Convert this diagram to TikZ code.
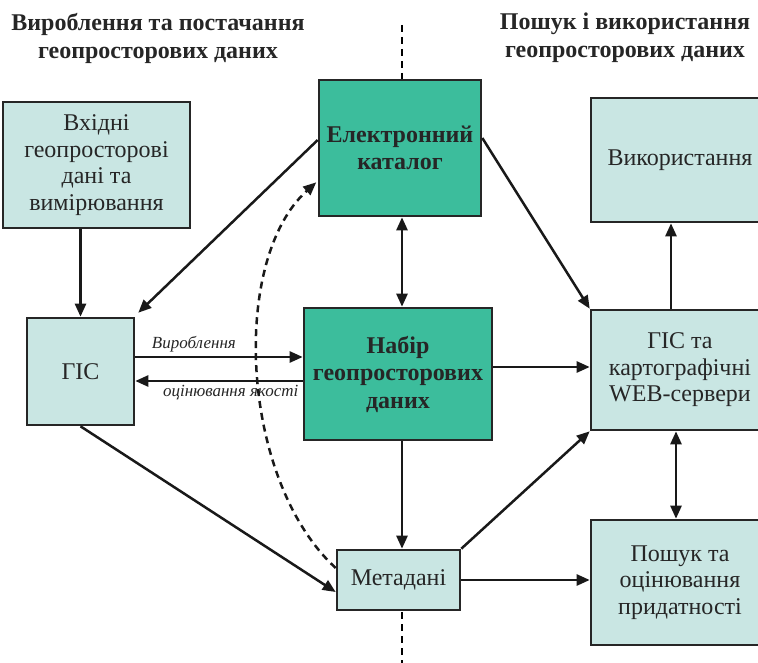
\documentclass[tikz,border=0pt]{standalone}
\usepackage{fontspec}
\setmainfont{Liberation Serif}
\usetikzlibrary{arrows.meta}
\definecolor{svitlyi}{HTML}{C9E6E3}
\definecolor{biruza}{HTML}{3CBD9C}
\tikzset{
  blok/.style={draw=black!85,line width=2.6pt,fill=svitlyi,align=center,
    inner sep=0pt,font=\fontsize{24}{26.5}\selectfont,text=black!85},
  golov/.style={blok,fill=biruza,font=\fontsize{24}{27.5}\selectfont\bfseries},
  arr/.style={line width=2.5pt,draw=black!90,-{Triangle[length=13pt,width=11pt]}},
  darr/.style={arr,{Triangle[length=13pt,width=11pt]}-{Triangle[length=13pt,width=11pt]}},
  pidpys/.style={font=\fontsize{17}{19}\selectfont\itshape,text=black!85}
}
\begin{document}
\begin{tikzpicture}[x=1pt,y=-1pt]
\useasboundingbox (0,0) rectangle (758,663);

% headings and the dividing line
\node[font=\fontsize{24}{28}\selectfont\bfseries,align=center,text=black!85]
  (hlivo) at (158,38) {Вироблення та постачання\\геопросторових даних};
\node[font=\fontsize{24}{28}\selectfont\bfseries,align=center,text=black!85]
  (hpravo) at (625,38) {Пошук і використання\\геопросторових даних};
\draw[line width=2.2pt,dash pattern=on 7pt off 5pt] (402,25) -- (402,80);
\draw[line width=2.2pt,dash pattern=on 7pt off 5pt] (402,612) -- (402,663);

% boxes
\node[blok,minimum width=187pt,minimum height=126pt] (vkhidni) at (96.5,165)
  {Вхідні\\геопросторові\\дані та\\вимірювання};
\node[blok,minimum width=107pt,minimum height=107pt] (gis) at (80.5,371.5) {ГІС};
\node[golov,minimum width=162pt,minimum height=136pt] (katalog) at (400,148)
  {Електронний\\каталог};
\node[golov,minimum width=188pt,minimum height=132pt] (nabir) at (398,374)
  {Набір\\геопросторових\\даних};
\node[blok,minimum width=123pt,minimum height=60pt] (meta) at (398.5,580) {Метадані};
\node[blok,minimum width=178pt,minimum height=124pt] (vykor) at (680,160) {Використання};
\node[blok,minimum width=178pt,minimum height=120pt] (web) at (680,370)
  {ГІС та\\картографічні\\WEB-сервери};
\node[blok,minimum width=178pt,minimum height=125pt] (poshuk) at (680,582.5)
  {Пошук та\\оцінювання\\придатності};

% connectors
\draw[arr] (vkhidni.south -| gis.north) -- (gis.north);
\draw[arr] ([yshift=8pt]katalog.west) -- ([shift={(3pt,4pt)}]gis.north east);
\draw[darr] ([xshift=2pt]katalog.south) -- ([xshift=2pt]katalog.south |- nabir.north);
\draw[arr] ([yshift=10pt]katalog.east) -- (web.north west);
\draw[arr] ([yshift=14.5pt]gis.east) -- ([yshift=14.5pt]gis.east -| nabir.west)
  node[pidpys,pos=0.35,above] (vyrob) {Вироблення};
\draw[arr] ([yshift=-9.5pt]gis.east -| nabir.west) -- ([yshift=-9.5pt]gis.east)
  node[pidpys,pos=0.43,below] (otsin) {оцінювання якості};
\draw[arr] ([yshift=7pt]nabir.east) -- ([yshift=7pt]nabir.east -| web.west);
\draw[arr] ([xshift=4pt]nabir.south) -- ([xshift=4pt]nabir.south |- meta.north);
\draw[arr] (gis.south) -- ([yshift=-12pt]meta.west);
\draw[arr] (meta.north east) -- (web.south west);
\draw[arr] (meta.east) -- (meta.east -| poshuk.west);
\draw[arr] ([xshift=-9pt]web.north) -- ([xshift=-9pt]web.north |- vykor.south);
\draw[darr] ([xshift=-4pt]web.south) -- ([xshift=-4pt]web.south |- poshuk.north);
\draw[arr,dash pattern=on 7pt off 5pt,shorten >=2pt] ([yshift=12pt]meta.west)
  .. controls (240,480) and (230,260) .. ([yshift=-33pt]katalog.west);
\end{tikzpicture}
\end{document}
